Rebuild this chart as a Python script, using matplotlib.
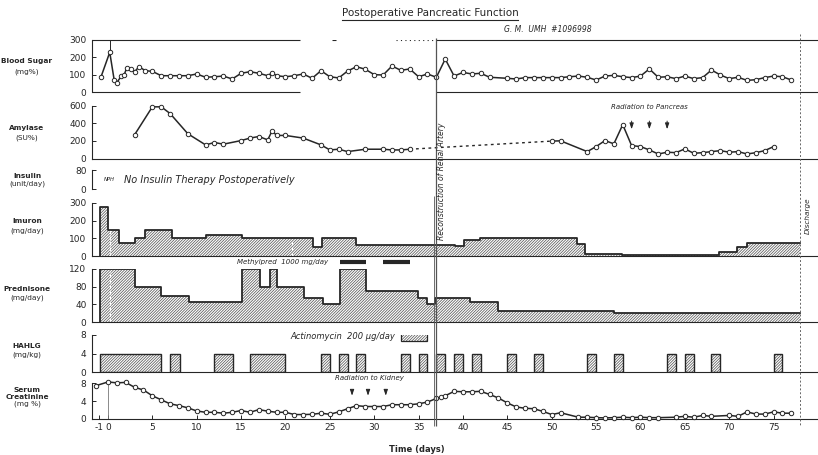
import matplotlib
matplotlib.use("Agg")
import matplotlib.pyplot as plt
from matplotlib.lines import Line2D

# ---- data (days after operation) ----
bs_days = [-0.8, 0.2, 0.7, 1.0, 1.5, 1.8, 2.1, 2.6, 3.0, 3.5, 4.2,
           5, 6, 7, 8, 9, 10, 11, 12, 13, 14, 15, 16, 17, 18, 18.5,
           19, 20, 21, 22, 23, 24, 25, 26, 27, 28, 29, 30, 31, 32, 33, 34, 35,
           36, 37, 38, 39, 40, 41, 42, 43,
           45, 46, 47, 48, 49, 50, 51, 52, 53, 54, 55, 56, 57, 58, 59, 60, 61,
           62, 63, 64, 65, 66, 67, 68, 69, 70, 71, 72, 73, 74, 75, 76, 77]
bs_vals = [85, 229, 69, 54, 92, 96, 137, 131, 117, 146, 123,
           119, 94, 94, 94, 94, 104, 85, 88, 92, 75, 108, 117, 108, 94, 111,
           94, 88, 94, 104, 79, 123, 88, 81, 121, 146, 131, 100, 98, 150, 125, 133, 88,
           104, 85, 190, 92, 113, 104, 108, 85,
           79, 75, 83, 83, 83, 83, 83, 88, 92, 85, 69, 92, 96, 88, 83, 92, 133,
           85, 88, 77, 92, 77, 83, 127, 98, 77, 85, 67, 71, 83, 92, 88, 69]

amy1_days = [3, 5, 6, 7, 9, 11, 12, 13, 15, 16, 17, 18, 18.5, 19, 20, 22,
             24, 25, 26, 27, 29, 31, 32, 33, 34]
amy1_vals = [269, 585, 585, 509, 280, 154, 181, 162, 203, 231, 249, 211, 314,
             261, 261, 231, 154, 97, 105, 78, 105, 105, 97, 97, 105]
amy2_days = [50, 51, 54, 55, 56, 57, 58, 59, 60, 61, 62, 63, 64, 65, 66, 67,
             68, 69, 70, 71, 72, 73, 74, 75]
amy2_vals = [197, 200, 78, 135, 203, 166, 383, 146, 135, 97, 51, 71, 66, 109,
             59, 66, 78, 89, 71, 78, 51, 66, 89, 135]
pancreas_rad_days = [59, 61, 63]

imuran_days = [-0.9, 0, 1.2, 3, 4.2, 7.2, 11.1, 15.1, 23.1, 24.1, 28, 39.1,
               40.1, 41.9, 52.8, 53.8, 57.9, 68.8, 70.9, 72, 78]
imuran_dose = [280, 150, 75, 100, 150, 100, 120, 100, 50, 100, 65, 58,
               90, 100, 70, 12, 8, 20, 50, 75, 75]

pred_days = [-0.9, 3, 6, 9.1, 15.1, 17.1, 18.2, 19.1, 22.1, 24.2, 26.1, 29.1,
             34.9, 35.9, 36.9, 40.8, 44, 57, 78]
pred_dose = [120, 80, 60, 45, 120, 80, 120, 80, 55, 40, 120, 70,
             55, 40, 55, 45, 25, 20, 20]
methylpred_start = [26.1, 31]
methylpred_end = [29.1, 34]

hahlg_start = [-0.9, 7, 12, 16, 24, 26, 28, 33, 35, 37, 39, 41, 45, 48,
               54, 57, 63, 65, 68, 75]
hahlg_end = [6, 8.1, 14.1, 20, 25, 27, 29, 34, 36, 38, 40, 42, 46, 49,
             55, 58, 64, 66, 69, 76]
hahlg_dose = [4] * 20
actino_start, actino_end = 33, 36

cr_days = [-1.3, 0, 1, 2, 3, 4, 5, 6, 7, 8, 9, 10, 11, 12, 13, 14, 15, 16,
           17, 18, 19, 20, 21, 22, 23, 24, 25, 26, 27, 28, 29, 30, 31, 32, 33,
           34, 35, 36, 37, 37.5, 38, 39, 40, 41, 42, 43, 44, 45, 46, 47, 48,
           49, 50, 51, 53, 54, 55, 56, 57, 58, 59, 60, 61, 62, 64, 65, 66, 67,
           68, 70, 71, 72, 73, 74, 75, 76, 77]
cr_vals = [7.5, 8.3, 8.1, 8.2, 7.1, 6.5, 5.2, 4.3, 3.4, 3.0, 2.5, 1.8, 1.5,
           1.5, 1.3, 1.5, 1.9, 1.5, 2.1, 1.75, 1.5, 1.5, 1.0, 1.0, 1.05, 1.3,
           1.05, 1.6, 2.3, 3.0, 2.8, 2.8, 2.8, 3.2, 3.2, 3.2, 3.4, 3.8, 4.6,
           4.9, 5.2, 6.2, 6.1, 6.1, 6.2, 5.5, 4.7, 3.6, 2.7, 2.4, 2.3, 1.7,
           1.0, 1.4, 0.4, 0.4, 0.3, 0.25, 0.3, 0.4, 0.3, 0.4, 0.3, 0.3, 0.4,
           0.6, 0.4, 0.8, 0.6, 0.8, 0.6, 1.6, 1.1, 1.1, 1.6, 1.3, 1.3]
kidney_rad_days = [27.5, 29.3, 31.3]

x_ticks = [-1, 0, 5, 10, 15, 20, 25, 30, 35, 40, 45, 50, 55, 60, 65, 70, 75]
renal_day = 37
discharge_day = 78

# ---- layout ----
W, H = 818, 455
XMIN, XMAX = -1.8, 80.0
INK = "#262626"
HATCH = "#5a5a5a"
DENSE = "/" * 12
plt.rcParams["hatch.linewidth"] = 0.55
plt.rcParams["axes.unicode_minus"] = False

fig = plt.figure(figsize=(W / 100, H / 100), dpi=100)
fig.patch.set_facecolor("white")


def panel(top, bottom, ymax, yticks, baseline=True):
    ax = fig.add_axes([92 / W, 1 - bottom / H, (W - 92) / W, (bottom - top) / H])
    ax.set_xlim(XMIN, XMAX)
    ax.set_ylim(0, ymax)
    ax.patch.set_alpha(0)
    for s in ["top", "right"]:
        ax.spines[s].set_visible(False)
    ax.spines["bottom"].set_visible(baseline)
    for s in ["left", "bottom"]:
        ax.spines[s].set_color(INK)
        ax.spines[s].set_linewidth(0.8)
    ax.set_yticks(yticks)
    ax.set_xticks([])
    ax.tick_params(axis="y", direction="in", length=3, width=0.7, pad=4,
                   labelsize=6.5, colors=INK)
    return ax


def series(ax, d, v):
    ax.plot(d, v, "-o", color=INK, lw=1.1, ms=3.2, mfc="white", mew=0.7,
            clip_on=False, zorder=3)


def step_fill(ax, d, v):
    ax.fill_between(d, v, step="post", facecolor="white", edgecolor=HATCH,
                    hatch=DENSE, lw=0)
    ax.step([d[0]] + d, [0] + v, where="post", color=INK, lw=1.3)


# Blood sugar
ax_bs = panel(40, 92, 300, [0, 100, 200, 300], baseline=False)
ax_bs.hlines([0, 300], XMIN, 21.6, color=INK, lw=0.8, clip_on=False)
ax_bs.hlines([0, 300], renal_day, XMAX, color=INK, lw=0.8, clip_on=False)
ax_bs.hlines(300, 32.4, renal_day, color=INK, lw=0.8, linestyles=(0, (1, 3)))
ax_bs.hlines(300, 25.2, 25.7, color=INK, lw=0.8)
ax_bs.vlines(bs_days[1], bs_vals[1], 300, color=INK, lw=0.7)
series(ax_bs, bs_days, bs_vals)

# Amylase
ax_am = panel(105.5, 158.5, 600, [0, 200, 400, 600])
series(ax_am, amy1_days, amy1_vals)
series(ax_am, amy2_days, amy2_vals)
ax_am.plot([amy1_days[-1], amy2_days[0]], [amy1_vals[-1], amy2_vals[0]],
           color=INK, lw=1.0, ls=(0, (2, 2.5)))
for d in pancreas_rad_days:
    ax_am.annotate("", xy=(d, 300), xytext=(d, 455),
                   arrowprops=dict(arrowstyle="-|>,head_width=0.12,head_length=0.35",
                                   color=INK, lw=0.7))
ax_am.text(61, 580, "Radiation to Pancreas", fontsize=5, style="italic",
           ha="center", va="center", color=INK)

# Insulin
ax_in = panel(170, 189, 80, [0, 80], baseline=False)
ax_in.text(-0.5, 40, "NPH", fontsize=3.8, style="italic", ha="left",
           va="center", color=INK)
ax_in.text(1.8, 40, "No Insulin Therapy Postoperatively", fontsize=7,
           style="italic", ha="left", va="center", color=INK)

# Imuran
ax_im = panel(203, 256, 300, [0, 100, 200, 300])
step_fill(ax_im, imuran_days, imuran_dose)
ax_im.axvline(0.2, ymax=0.9, color="white", lw=0.8, ls=(0, (3, 2)))
ax_im.axvline(20.7, ymax=0.3, color="white", lw=0.8, ls=(0, (3, 2)))

# Prednisone
ax_pr = panel(269, 322, 120, [0, 40, 80, 120])
step_fill(ax_pr, pred_days, pred_dose)
ax_pr.axvline(0.2, ymax=0.97, color="white", lw=0.8, ls=(0, (3, 2)))
ax_pr.hlines([135] * len(methylpred_start), methylpred_start, methylpred_end,
             color=INK, lw=3, clip_on=False)
ax_pr.text(24.8, 135, "Methylpred  1000 mg/day", fontsize=5, style="italic",
           ha="right", va="center", color=INK)

# HAHLG
widths = [e - s for s, e in zip(hahlg_start, hahlg_end)]
ax_hl = panel(335, 372, 8, [0, 4, 8])
ax_hl.bar(hahlg_start, hahlg_dose, width=widths, align="edge",
          facecolor="white", edgecolor=HATCH, hatch=DENSE, lw=0)
ax_hl.bar(hahlg_start, hahlg_dose, width=widths, align="edge",
          facecolor="none", edgecolor=INK, lw=1.0)
ax_hl.bar(actino_start, 1.9, width=actino_end - actino_start, bottom=6.7,
          align="edge", facecolor="white", edgecolor=HATCH, hatch=DENSE, lw=0)
ax_hl.bar(actino_start, 1.9, width=actino_end - actino_start, bottom=6.7,
          align="edge", facecolor="none", edgecolor=INK, lw=0.9)
ax_hl.text(32.4, 7.7, "Actinomycin  200 \u03bcg/day", fontsize=6, style="italic",
           ha="right", va="center", color=INK)

# Serum creatinine
ax_cr = panel(383.3, 419, 8, [0, 4, 8])
ax_cr.vlines(0, 0, 8, color="#777777", lw=0.6)
series(ax_cr, cr_days, cr_vals)
for d in kidney_rad_days:
    ax_cr.annotate("", xy=(d, 4.6), xytext=(d, 7.1),
                   arrowprops=dict(arrowstyle="-|>,head_width=0.12,head_length=0.35",
                                   color=INK, lw=0.7))
ax_cr.text(29.5, 9.2, "Radiation to Kidney", fontsize=5, style="italic",
           ha="center", va="center", color=INK)
ax_cr.set_xticks(x_ticks)
ax_cr.tick_params(axis="x", direction="in", length=3, width=0.7, pad=3,
                  labelsize=6.5, colors=INK)

# overlay in pixel rows for the guide lines spanning all panels
ov = fig.add_axes([92 / W, 0, (W - 92) / W, 1])
ov.set_xlim(XMIN, XMAX)
ov.set_ylim(H, 0)
ov.axis("off")
ov.patch.set_alpha(0)
ov.vlines(renal_day, 38, 426, color="#555555", lw=0.9)
ov.vlines(renal_day - 0.3, 196, 426, color="#555555", lw=0.6)
ov.vlines(discharge_day, 34, 426, color="#666666", lw=0.7, linestyles=(0, (2, 2)))
ov.text(renal_day + 0.6, 181, "Reconstruction of Renal Artery", rotation=90,
        fontsize=5.5, style="italic", ha="center", va="center", color=INK)
ov.text(discharge_day + 0.8, 216, "Discharge", rotation=90, fontsize=5.2,
        style="italic", ha="center", va="center", color=INK)

# labels
title = fig.text(430 / W, 1 - 13 / H, "Postoperative Pancreatic Function",
                 fontsize=7.5, ha="center", va="center", color=INK)
fig.text(548 / W, 1 - 30 / H, "G. M.  UMH  #1096998", fontsize=5.5,
         style="italic", ha="center", va="center", color=INK)
fig.text(417 / W, 1 - 450 / H, "Time (days)", fontsize=6, fontweight="bold",
         ha="center", va="center", color=INK)

row_labels = [
    ("Blood Sugar", 61, "(mg%)", 72),
    ("Amylase", 128, "(SU%)", 138),
    ("Insulin", 176, "(unit/day)", 184),
    ("Imuron", 221, "(mg/day)", 231),
    ("Prednisone", 289, "(mg/day)", 298),
    ("HAHLG", 346, "(mg/kg)", 355),
    ("Creatinine", 397, "(mg %)", 404),
]
for name, y1, unit, y2 in row_labels:
    fig.text(27 / W, 1 - y1 / H, name, fontsize=5.3, fontweight="bold",
             ha="center", va="center", color=INK)
    fig.text(27 / W, 1 - y2 / H, unit, fontsize=5.3, ha="center", va="center",
             color=INK)
fig.text(27 / W, 1 - 390 / H, "Serum", fontsize=5.3, fontweight="bold",
         ha="center", va="center", color=INK)

# underline the title
fig.canvas.draw()
bb = title.get_window_extent()
fig.add_artist(Line2D([bb.x0 / W, bb.x1 / W], [(bb.y0 - 1.5) / H] * 2,
                      color=INK, lw=0.8))

fig.savefig("out.png", dpi=100, facecolor="white")
